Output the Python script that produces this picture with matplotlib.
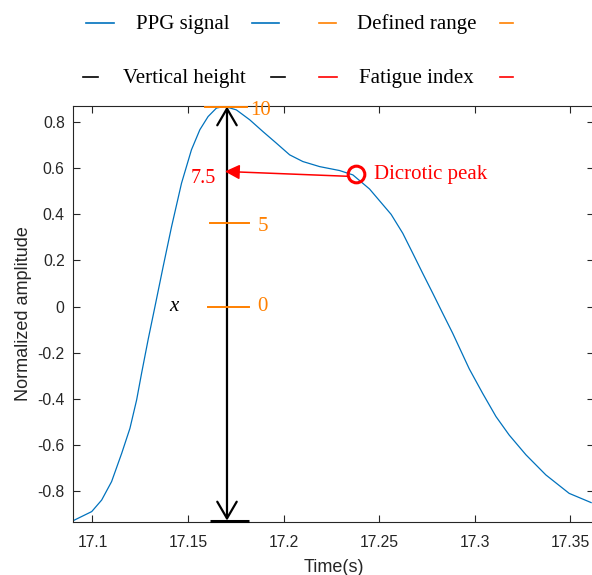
import matplotlib.pyplot as plt
from matplotlib.lines import Line2D

# PPG pulse
time = [17.0900, 17.0996, 17.1048, 17.1100, 17.1153, 17.1196, 17.1231, 17.1257,
        17.1292, 17.1327, 17.1370, 17.1414, 17.1466, 17.1518, 17.1562, 17.1605,
        17.1649, 17.1692, 17.1753, 17.1823, 17.1892, 17.1962, 17.2032, 17.2101,
        17.2189, 17.2293, 17.2363, 17.2450, 17.2563, 17.2624, 17.2676, 17.2728,
        17.2781, 17.2833, 17.2885, 17.2972, 17.3042, 17.3112, 17.3181, 17.3269,
        17.3373, 17.3495, 17.3610]
amplitude = [-0.928, -0.889, -0.839, -0.759, -0.636, -0.528, -0.405, -0.289,
             -0.140, 0.000, 0.174, 0.347, 0.535, 0.680, 0.767, 0.824,
             0.861, 0.868, 0.853, 0.810, 0.759, 0.709, 0.658, 0.629,
             0.607, 0.590, 0.571, 0.510, 0.400, 0.318, 0.232, 0.145,
             0.058, -0.029, -0.115, -0.270, -0.376, -0.477, -0.557, -0.643,
             -0.730, -0.810, -0.850]

# defined range marks on the vertical height line
range_labels = ['0', '5', '10']
range_levels = [0.0, 0.362, 0.866]
range_x0 = [17.1603, 17.1614, 17.1589]
range_x1 = [17.1818, 17.1818, 17.1808]
range_text_dy = [0.0, -0.013, -0.016]

peak_time = 17.1704
dicrotic_t, dicrotic_a = 17.2380, 0.573
fatigue_value = '7.5'
fatigue_tip = (17.1693, 0.586)
fatigue_tail = (17.2337, 0.565)

xticks = [17.1, 17.15, 17.2, 17.25, 17.3, 17.35]
xticklabels = ['17.1', '17.15', '17.2', '17.25', '17.3', '17.35']
yticks = [-0.8, -0.6, -0.4, -0.2, 0, 0.2, 0.4, 0.6, 0.8]
yticklabels = ['-0.8', '-0.6', '-0.4', '-0.2', '0', '0.2', '0.4', '0.6', '0.8']

BLUE = '#0072BD'
ORANGE = '#FF8000'
RED = '#FF0000'
GREY = '#262626'
SERIF = 'Liberation Serif'
SANS = 'Liberation Sans'

fig = plt.figure(figsize=(5.92, 5.75), dpi=100)
ax = fig.add_axes([73 / 592, 53.5 / 575, 521 / 592, 416 / 575])

ymin, ymax = min(amplitude), max(amplitude)

ax.plot(time, amplitude, color=BLUE, lw=0.9)

# vertical height: double arrow with base line
ax.annotate('', xy=(peak_time, ymax), xytext=(peak_time, ymin),
            arrowprops=dict(arrowstyle='<->,head_length=1.2,head_width=0.7',
                            lw=1.6, color='k', shrinkA=0, shrinkB=0,
                            mutation_scale=10), zorder=4)
ax.plot([range_x0[1], range_x1[1]], [ymin, ymin], color='k', lw=2.2,
        solid_capstyle='butt', clip_on=False, zorder=5)

# defined range ticks
for lab, lev, x0, x1, dy in zip(range_labels, range_levels, range_x0,
                                range_x1, range_text_dy):
    ax.plot([x0, x1], [lev, lev], color=ORANGE, lw=1.4, clip_on=False, zorder=5)
    ax.text(x1 + 0.0015 + (0.0 if lab == '10' else 0.003), lev + dy, lab,
            color=ORANGE, fontsize=15, family=SERIF, va='center', ha='left')

# fatigue index arrow from dicrotic peak
ax.annotate('', xy=fatigue_tip, xytext=fatigue_tail,
            arrowprops=dict(arrowstyle='-|>,head_length=0.9,head_width=0.45',
                            lw=1.1, color=RED, shrinkA=0, shrinkB=0,
                            mutation_scale=10), zorder=6)
ax.plot([dicrotic_t], [dicrotic_a], 'o', ms=12, mfc='none', mec=RED, mew=2.2,
        zorder=7)
ax.text(dicrotic_t + 0.0092, dicrotic_a - 0.002, 'Dicrotic peak', color=RED,
        fontsize=15, family=SERIF, va='center', ha='left')
ax.text(fatigue_tip[0] - 0.0045, 0.557, fatigue_value,
        color=RED, fontsize=14.5, family=SERIF, va='center', ha='right')
ax.text(17.1426, 0.0, 'x', fontsize=15, family=SERIF, style='italic',
        va='center', ha='center')

ax.set_xlim(17.0898, 17.3625)
ax.set_ylim(ymin - 0.004, ymax + 0.004)
ax.set_xticks(xticks)
ax.set_xticklabels(xticklabels, family=SANS)
ax.set_yticks(yticks)
ax.set_yticklabels(yticklabels, family=SANS)
ax.tick_params(direction='in', length=5, width=0.8, colors=GREY,
               labelsize=11.3, top=True, right=True)
ax.tick_params(axis='x', pad=10)
ax.tick_params(axis='y', pad=6)
for s in ax.spines.values():
    s.set_color(GREY)
    s.set_linewidth(0.8)
ax.set_xlabel('Time(s)', fontsize=13, family=SANS, color=GREY, labelpad=6)
ax.set_ylabel('Normalized amplitude', fontsize=13, family=SANS, color=GREY,
              labelpad=4)

# legend drawn as MATLAB exported it: sample lines on both sides of the text
legend_rows = [
    [('PPG signal', BLUE, (86, 114), 136, (252, 279)),
     ('Defined range', ORANGE, (319, 336), 357, (500, 513))],
    [('Vertical height', 'k', (83, 98), 123, (271, 285)),
     ('Fatigue index', RED, (319, 337), 359, (500, 513))],
]
row_y = [22.5, 77]
for row, yy in zip(legend_rows, row_y):
    fy = 1 - yy / 575
    for label, col, left, tx, right in row:
        for seg in (left, right):
            fig.add_artist(Line2D([seg[0] / 592, seg[1] / 592], [fy, fy],
                                  color=col, lw=1.2))
        fig.text(tx / 592, fy - 2 / 575, label, fontsize=15, family=SERIF,
                 va='center', ha='left')

fig.savefig('out.png', dpi=100)
